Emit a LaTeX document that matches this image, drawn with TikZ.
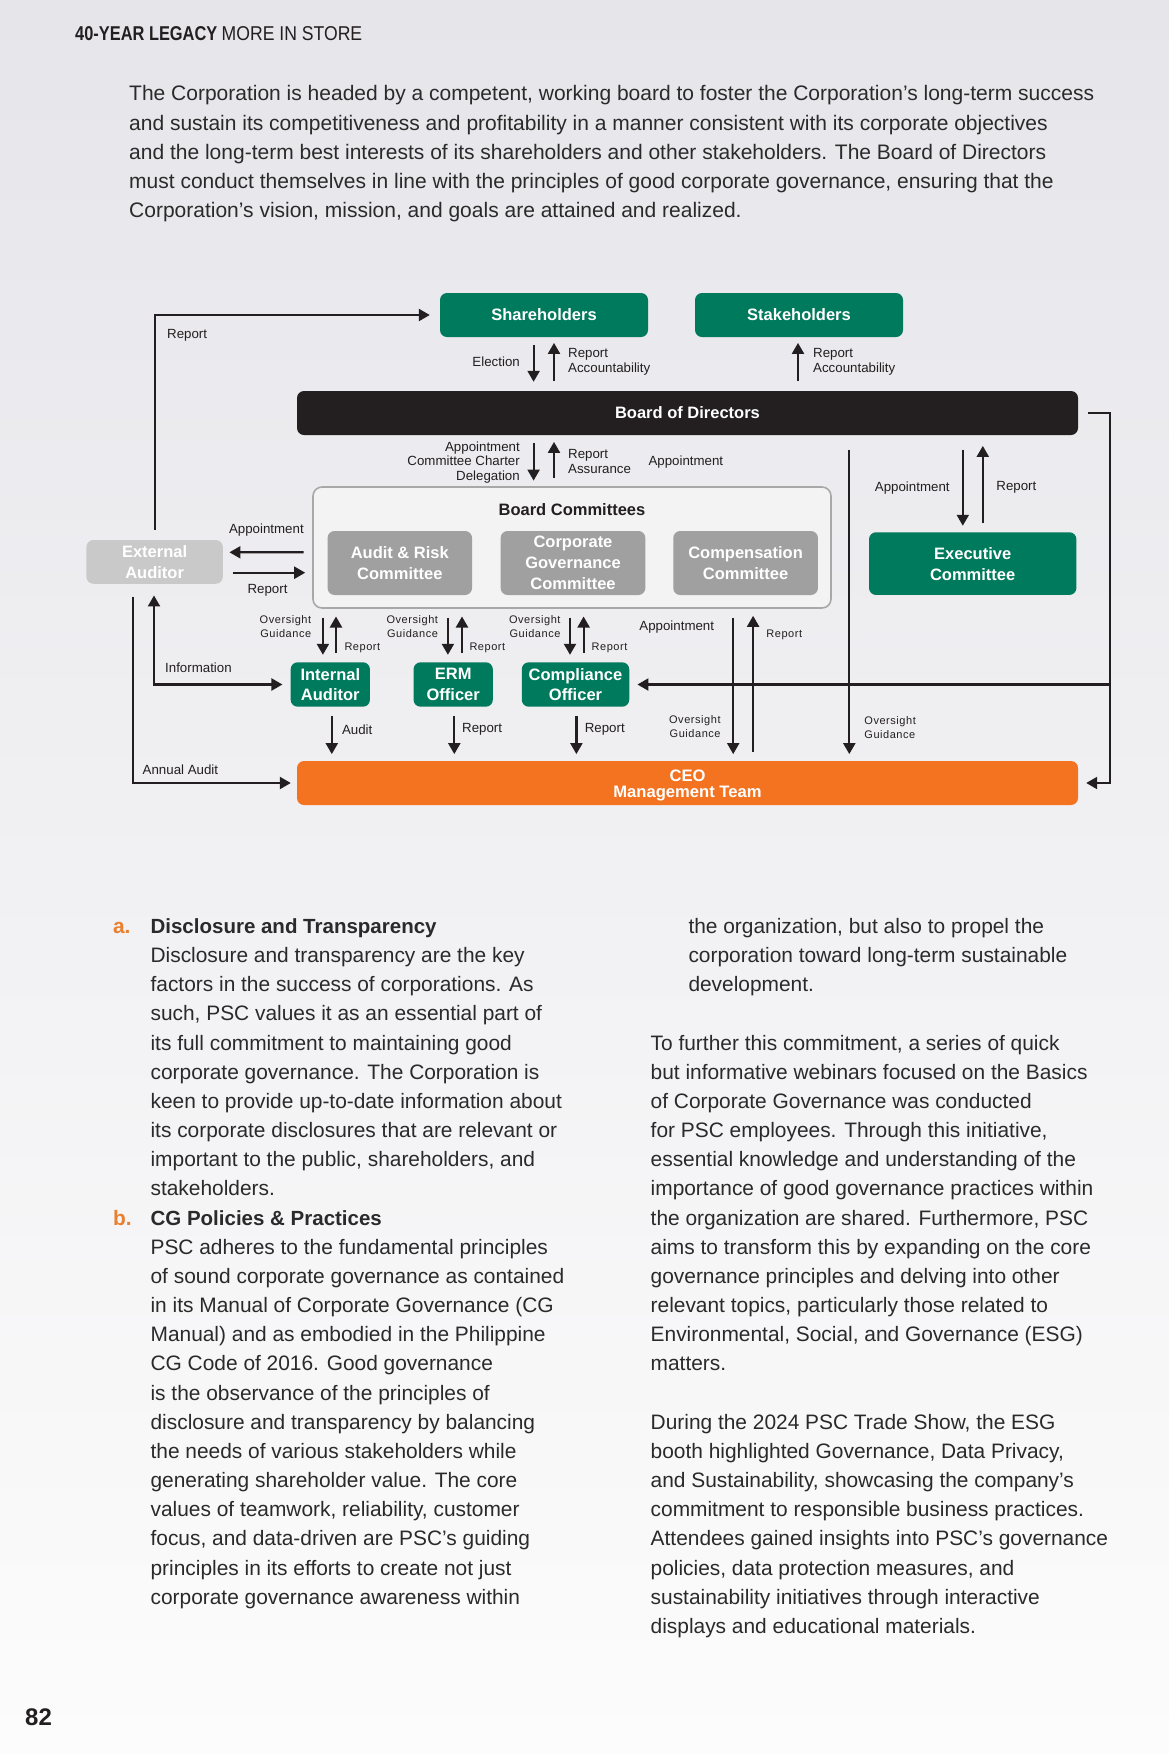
\documentclass[tikz,border=0pt]{standalone}
\usepackage{graphicx}
\usepackage{fontspec}
\setmainfont{Liberation Sans}
\newfontfamily\spacedfont[LetterSpace=5]{Liberation Sans}
\usetikzlibrary{arrows.meta,calc}
\definecolor{ink}{HTML}{231F20}
\definecolor{bodyink}{HTML}{2A2A2A}
\definecolor{pscgreen}{HTML}{007A5C}
\definecolor{pscorange}{HTML}{F47321}
\definecolor{listorange}{HTML}{E8802F}
\definecolor{cgray}{HTML}{A0A0A0}
\definecolor{egray}{HTML}{C9C9C9}
\definecolor{frame}{HTML}{A8A8A8}
\definecolor{framefill}{HTML}{F3F3F4}
\definecolor{bgtop}{HTML}{E6E5EA}
\definecolor{bgbot}{HTML}{FCFCFC}
\newcommand\fsz[2]{\fontsize{#1}{#2}\selectfont}
\newcount\tcnt
\newcommand\tl[3]{\node[txt] (l\the\tcnt) at (#1,#2) {#3};\global\advance\tcnt by 1\relax}
\begin{document}
\begin{tikzpicture}[x=1pt,y=-1pt,
  box/.style={rounded corners=7pt, inner sep=0pt, align=center, text=white, font=\bfseries\fsz{16.5}{21}},
  gbox/.style={box, fill=pscgreen},
  cbox/.style={box, fill=cgray},
  arr/.style={draw=ink, line width=2.2pt, -{Triangle[length=11pt,width=12pt]}},
  arrb/.style={draw=ink, line width=2.2pt, {Triangle[length=11pt,width=12pt]}-{Triangle[length=11pt,width=12pt]}},
  lab/.style={inner sep=0pt, text=ink, font=\fsz{13.3}{14.5}},
  slab/.style={inner sep=0pt, text=ink, font=\spacedfont\fsz{11}{14.7}},
  txt/.style={anchor=base west, inner sep=0pt, text=bodyink, font=\fsz{20.9}{24}},
  itxt/.style={anchor=base west, inner sep=0pt, text=bodyink, font=\fsz{21}{24}}
]
% background
\shade[top color=bgtop, bottom color=bgbot] (0,0) rectangle (1169,1754);
\useasboundingbox (0,0) rectangle (1169,1754);

% header
\node[anchor=base west, inner sep=0pt, text=ink] (hdrA) at (75,40) {\scalebox{0.82}[1]{\fsz{20}{20}\bfseries 40-YEAR LEGACY}};
\node[anchor=base west, inner sep=0pt, text=ink] (hdrB) at (221.5,40) {\scalebox{0.88}[1]{\fsz{20}{20}MORE IN STORE}};

% intro
\node[itxt] (i1) at (129,100.7) {The Corporation is headed by a competent, working board to foster the Corporation’s long-term success};
\node[itxt] (i2) at (129,130) {and sustain its competitiveness and profitability in a manner consistent with its corporate objectives};
\node[itxt] (i3) at (129,159.2) {and the long-term best interests of its shareholders and other stakeholders. The Board of Directors};
\node[itxt] (i4) at (129,188.4) {must conduct themselves in line with the principles of good corporate governance, ensuring that the};
\node[itxt] (i5) at (129,217.6) {Corporation’s vision, mission, and goals are attained and realized.};

% ---------------- diagram nodes
\node[gbox, minimum width=208pt, minimum height=44pt] (sh) at (544,315) {Shareholders};
\node[gbox, minimum width=208pt, minimum height=44pt] (st) at (799,315) {Stakeholders};
\node[box, fill=ink, minimum width=781pt, minimum height=44pt] (bod) at (687.5,413) {Board of Directors};
\node[draw=frame, line width=1.6pt, fill=framefill, rounded corners=9pt, minimum width=518pt, minimum height=121pt, inner sep=0pt] (bc) at (572,547.5) {};
\node[inner sep=0pt, text=ink, font=\bfseries\fsz{16.5}{20}] (bct) at (572,509.3) {Board Committees};
\node[cbox, minimum width=144.5pt, minimum height=64pt] (arc) at (399.8,563) {Audit \& Risk\\Committee};
\node[cbox, minimum width=144.7pt, minimum height=64pt] (cgc) at (573,563) {Corporate\\Governance\\Committee};
\node[cbox, minimum width=144.7pt, minimum height=64pt] (cc) at (745.6,563) {Compensation\\Committee};
\node[box, fill=egray, minimum width=136.5pt, minimum height=43.7pt] (ea) at (154.6,561.9) {External\\Auditor};
\node[gbox, minimum width=207.4pt, minimum height=62.7pt] (ec) at (972.7,563.6) {Executive\\Committee};
\node[gbox, minimum width=79.3pt, minimum height=44.4pt, font=\bfseries\fsz{16.5}{20.3}] (ia) at (330.3,684.5) {Internal\\Auditor};
\node[gbox, minimum width=79.3pt, minimum height=44.4pt, font=\bfseries\fsz{16.5}{20.3}] (erm) at (453.2,684.5) {ERM\\Officer};
\node[gbox, minimum width=107.5pt, minimum height=44.4pt, font=\bfseries\fsz{16.5}{20.3}] (co) at (575.5,684.5) {Compliance\\Officer};
\node[box, fill=pscorange, minimum width=781pt, minimum height=44pt] (ceo) at (687.5,783) {};
\node[inner sep=0pt, align=center, text=white, font=\bfseries\fsz{16.6}{16.3}] (ceot) at (687.5,785.5) {CEO\\Management Team};

% ---------------- connectors
% external auditor report to shareholders
\draw[arr] ($(ea.north)+(0,-10)$) |- ($(sh.west)+(-10,0)$);
\node[lab, anchor=west] (lrep1) at (167,335.7) {Report};
% shareholders <-> board
\draw[arr] ($(sh.south)+(-10.4,8)$) -- ($(sh.south|-bod.north)+(-10.4,-9)$);
\draw[arr] ($(sh.south|-bod.north)+(10,-10.3)$) -- ($(sh.south)+(10,5.7)$);
\node[lab, anchor=east] (lel) at (520,362) {Election};
\node[lab, anchor=west, align=left] (lra1) at (568,362) {Report\\Accountability};
% stakeholders
\draw[arr] ($(st.south|-bod.north)+(-1,-10.3)$) -- ($(st.south)+(-1,5.7)$);
\node[lab, anchor=west, align=left] (lra2) at (813,362) {Report\\Accountability};
% board <-> committees
\draw[arr] ($(sh.south|-bod.south)+(-10.4,8)$) -- ($(sh.south|-bc.north)+(-10.4,-5.6)$);
\draw[arr] ($(sh.south|-bc.north)+(10,-8)$) -- ($(sh.south|-bod.south)+(10,6.7)$);
\node[lab, anchor=east, align=right] (lacd) at (520,462.2) {Appointment\\Committee Charter\\Delegation};
\node[lab, anchor=west, align=left] (lras) at (568,461.5) {Report\\Assurance};
\node[lab, anchor=west] (lap1) at (648.3,461.7) {Appointment};
% committees <-> external auditor
\draw[arr] ($(bc.west)+(-8.7,4.8)$) -- ($(ea.east)+(6.4,-9.6)$);
\draw[arr] ($(ea.east)+(9.6,10.8)$) -- ($(bc.west)+(-7,25.2)$);
\node[lab] (lap2) at (266.4,530.3) {Appointment};
\node[lab] (lrep2) at (267.5,590.7) {Report};
% annual audit and information
\draw[arr] ($(ea.south)+(-21.6,13)$) |- ($(ceo.west)+(-6,0)$);
\node[lab, anchor=west] (laa) at (142.5,769.3) {Annual Audit};
\draw[arrb] ($(ea.south)+(-0.6,11.5)$) |- ($(ia.west)+(-8,0)$);
\node[lab, anchor=west] (linf) at (165,667.3) {Information};
% committees <-> officers
\draw[arr] ($(ia.north|-bc.south)+(-7.4,8.7)$) -- ($(ia.north)+(-7.4,-7.3)$);
\draw[arr] ($(ia.north)+(5.7,-9.6)$) -- ($(ia.north|-bc.south)+(5.7,7.7)$);
\draw[arr] ($(erm.north|-bc.south)+(-5.3,8.7)$) -- ($(erm.north)+(-5.3,-7.3)$);
\draw[arr] ($(erm.north)+(8.8,-9.6)$) -- ($(erm.north|-bc.south)+(8.8,7.7)$);
\draw[arr] ($(co.north|-bc.south)+(-5.5,8.7)$) -- ($(co.north)+(-5.5,-7.3)$);
\draw[arr] ($(co.north)+(8.1,-9.6)$) -- ($(co.north|-bc.south)+(8.1,7.7)$);
\node[slab, anchor=east, align=right] (log1) at (311.4,626.7) {Oversight\\Guidance};
\node[slab, anchor=west] (lr3) at (344.3,648.3) {Report};
\node[slab, anchor=east, align=right] (log2) at (438.2,626.7) {Oversight\\Guidance};
\node[slab, anchor=west] (lr4) at (469.3,648.3) {Report};
\node[slab, anchor=east, align=right] (log3) at (560.7,626.7) {Oversight\\Guidance};
\node[slab, anchor=west] (lr5) at (591.4,648.3) {Report};
% officers -> CEO
\draw[arr] ($(ia.south)+(1.5,9)$) -- ($(ia.south|-ceo.north)+(1.5,-6.7)$);
\draw[arr] ($(erm.south)+(1.1,9)$) -- ($(erm.south|-ceo.north)+(1.1,-6.7)$);
\draw[arr] ($(co.south)+(0.9,9)$) -- ($(co.south|-ceo.north)+(0.9,-6.7)$);
\node[lab, anchor=west] (lau) at (341.8,729.3) {Audit};
\node[lab, anchor=west] (lr6) at (462,729.3) {Report};
\node[lab, anchor=west] (lr7) at (584.6,729.3) {Report};
% committees <-> CEO
\coordinate (cA) at ($(bc.south)+(161.2,0)$);
\coordinate (cB) at ($(bc.south)+(181.1,0)$);
\draw[arr] ($(cA)+(0,8.7)$) -- ($(cA|-ceo.north)+(0,-6.7)$);
\draw[arr] ($(cB|-ceo.north)+(0,-8.7)$) -- ($(cB)+(0,7)$);
\node[lab, anchor=west] (lap3) at (639.2,627.3) {Appointment};
\node[slab, anchor=west] (lr8) at (766.2,635) {Report};
\node[slab, anchor=east, align=right] (log4) at (720.8,726.5) {Oversight\\Guidance};
% board -> CEO
\coordinate (cC) at ($(bod.south)+(161.8,0)$);
\draw[arr] ($(cC)+(0,14.3)$) -- ($(cC|-ceo.north)+(0,-6.7)$);
\node[slab, anchor=west, align=left] (log5) at (864.2,727.5) {Oversight\\Guidance};
% board <-> executive committee
\draw[arr] ($(ec.north|-bod.south)+(-9.9,14.3)$) -- ($(ec.north)+(-9.9,-6.3)$);
\draw[arr] ($(ec.north)+(10.1,-9)$) -- ($(ec.north|-bod.south)+(10.1,10.7)$);
\node[lab, anchor=east] (lap4) at (949.8,487.7) {Appointment};
\node[lab, anchor=west] (lr9) at (996.2,487.7) {Report};
% board right loop to CEO and compliance officer
\coordinate (rr) at ($(bod.east)+(32,0)$);
\draw[arr] ($(bod.east)+(10,0)$) -- (rr) |- ($(ceo.east)+(8,0)$);
\draw[arr] (rr|-co.east) -- ($(co.east)+(8,0)$);

% ---------------- body text
\node[anchor=base west, inner sep=0pt, text=listorange, font=\bfseries\fsz{20.9}{24}] (la) at (112.9,933.3) {a.};
\node[anchor=base west, inner sep=0pt, text=listorange, font=\bfseries\fsz{20.9}{24}] (lb) at (112.9,1225.5) {b.};
\node[txt, font=\bfseries\fsz{20.5}{24}] (ha) at (150.4,933.3) {Disclosure and Transparency};
\tl{150.4}{962.5}{Disclosure and transparency are the key}
\tl{150.4}{991.6}{factors in the success of corporations. As}
\tl{150.4}{1020.8}{such, PSC values it as an essential part of}
\tl{150.4}{1050.0}{its full commitment to maintaining good}
\tl{150.4}{1079.2}{corporate governance. The Corporation is}
\tl{150.4}{1108.3}{keen to provide up-to-date information about}
\tl{150.4}{1137.5}{its corporate disclosures that are relevant or}
\tl{150.4}{1166.7}{important to the public, shareholders, and}
\tl{150.4}{1195.8}{stakeholders.}
\node[txt, font=\bfseries\fsz{20.5}{24}] (hb) at (150.4,1225.0) {CG Policies \& Practices};
\tl{150.4}{1254.2}{PSC adheres to the fundamental principles}
\tl{150.4}{1283.3}{of sound corporate governance as contained}
\tl{150.4}{1312.5}{in its Manual of Corporate Governance (CG}
\tl{150.4}{1341.7}{Manual) and as embodied in the Philippine}
\tl{150.4}{1370.8}{CG Code of 2016. Good governance}
\tl{150.4}{1400.0}{is the observance of the principles of}
\tl{150.4}{1429.2}{disclosure and transparency by balancing}
\tl{150.4}{1458.4}{the needs of various stakeholders while}
\tl{150.4}{1487.5}{generating shareholder value. The core}
\tl{150.4}{1516.7}{values of teamwork, reliability, customer}
\tl{150.4}{1545.9}{focus, and data-driven are PSC’s guiding}
\tl{150.4}{1575.0}{principles in its efforts to create not just}
\tl{150.4}{1604.2}{corporate governance awareness within}
% right column
\tl{688.3}{933.3}{the organization, but also to propel the}
\tl{688.3}{962.5}{corporation toward long-term sustainable}
\tl{688.3}{991.6}{development.}
\tl{650.5}{1050.0}{To further this commitment, a series of quick}
\tl{650.5}{1079.2}{but informative webinars focused on the Basics}
\tl{650.5}{1108.3}{of Corporate Governance was conducted}
\tl{650.5}{1137.5}{for PSC employees. Through this initiative,}
\tl{650.5}{1166.7}{essential knowledge and understanding of the}
\tl{650.5}{1195.8}{importance of good governance practices within}
\tl{650.5}{1225.0}{the organization are shared. Furthermore, PSC}
\tl{650.5}{1254.2}{aims to transform this by expanding on the core}
\tl{650.5}{1283.3}{governance principles and delving into other}
\tl{650.5}{1312.5}{relevant topics, particularly those related to}
\tl{650.5}{1341.7}{Environmental, Social, and Governance (ESG)}
\tl{650.5}{1370.8}{matters.}
\tl{650.5}{1429.2}{During the 2024 PSC Trade Show, the ESG}
\tl{650.5}{1458.4}{booth highlighted Governance, Data Privacy,}
\tl{650.5}{1487.5}{and Sustainability, showcasing the company’s}
\tl{650.5}{1516.7}{commitment to responsible business practices.}
\tl{650.5}{1545.9}{Attendees gained insights into PSC’s governance}
\tl{650.5}{1575.0}{policies, data protection measures, and}
\tl{650.5}{1604.2}{sustainability initiatives through interactive}
\tl{650.5}{1633.4}{displays and educational materials.}

% page number
\node[anchor=base west, inner sep=0pt, text=ink, font=\bfseries\fsz{24}{24}] (pg) at (25,1725) {82};
\end{tikzpicture}
\end{document}
